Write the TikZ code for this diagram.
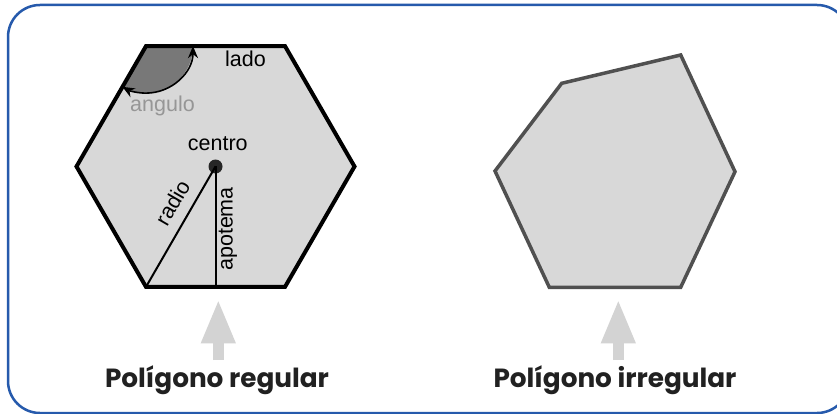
\documentclass[tikz,border=0pt]{standalone}
\usepackage{fontspec}
\setmainfont{Liberation Sans}
\newfontfamily\capfont{Poppins}
\usepackage{tikz}
\usetikzlibrary{arrows.meta}
\definecolor{frameblue}{RGB}{38,90,172}
\definecolor{polyfill}{RGB}{216,216,216}
\definecolor{irrline}{RGB}{80,80,80}
\definecolor{angfill}{RGB}{120,120,120}
\definecolor{arrgray}{RGB}{211,211,211}
\definecolor{anggray}{RGB}{150,150,150}
\tikzset{
	lbl/.style={font=\fontsize{21.5}{25}\selectfont, inner sep=0pt},
	caption/.style={font=\capfont\bfseries\fontsize{26.3}{31}\selectfont, text=black!87, inner sep=0pt, anchor=base},
	uparrow/.style={draw=arrgray, line width=10.7pt, -{Triangle[width=31.6pt,length=44pt]}},
	angarrow/.style={line width=1.6pt, {Stealth[length=12pt,width=10pt]}-{Stealth[length=12pt,width=10pt]}}
}

\begin{document}
\begin{tikzpicture}[x=1pt, y=-1pt]
		\fill[white] (0,0) rectangle (837,414);
		\useasboundingbox (0,0) rectangle (837,414);
		\clip (0,0) rectangle (837,414);
		\draw[frameblue, line width=2.5pt, rounded corners=32pt] (8,5) rectangle (849,413);

		\coordinate (ctr) at (215.5,166.5);
		\foreach \a in {0,60,...,300}
			\coordinate (h\a) at ([shift={(\a:139)}]ctr);
		\coordinate (apo) at ([shift={(90:120.4)}]ctr);
		\coordinate (angA) at ([shift={(0:47)}]h240);
		\coordinate (angB) at ([shift={(120:47)}]h240);

		\fill[polyfill] (h0) -- (h60) -- (h120) -- (h180) -- (h240) -- (h300) -- cycle;
		\fill[angfill] (h240) -- (angA) arc[start angle=0, end angle=120, radius=47] -- cycle;
		\draw[line width=4pt, line join=miter] (h0) -- (h60) -- (h120) -- (h180) -- (h240) -- (h300) -- cycle;
		\draw[angarrow] (angA) arc[start angle=0, end angle=120, radius=47];

		\node[circle, fill=black!85, inner sep=0pt, minimum size=14pt] (centro) at (ctr) {};
		\draw[line width=2pt] (centro.center) -- (h120);
		\draw[line width=2pt] (centro.center) -- (apo);

		\node[lbl, anchor=base west] (lado) at (225,66.7) {lado};
		\node[lbl, anchor=base west, text=anggray] (angulo) at (130,111.5) {angulo};
		\node[lbl, anchor=base west] (centrolbl) at (187.7,150.7) {centro};
		\node[lbl, rotate=60] (radio) at (172.4,202.5) {radio};
		\node[lbl, rotate=90] (apotema) at (228,229) {apotema};

		\coordinate (i1) at (561.7,83.3);
		\coordinate (i2) at (680.7,55);
		\coordinate (i3) at (735,171.7);
		\coordinate (i4) at (680.7,287.3);
		\coordinate (i5) at (549.3,287.3);
		\coordinate (i6) at (495,171);
		\filldraw[fill=polyfill, draw=irrline, line width=3.5pt, line join=miter] (i1) -- (i2) -- (i3) -- (i4) -- (i5) -- (i6) -- cycle;

		\node[caption] (capreg) at (217,387.3) {Polígono regular};
		\node[caption] (capirr) at (615,387.3) {Polígono irregular};

		\coordinate (regtip) at (218.3,299.3);
		\coordinate (regfoot) at (218.3,360);
		\coordinate (irrtip) at (618.3,299.3);
		\coordinate (irrfoot) at (618.3,360);
		\draw[uparrow] (regfoot) -- (regtip);
		\draw[uparrow] (irrfoot) -- (irrtip);
	\end{tikzpicture}
\end{document}
